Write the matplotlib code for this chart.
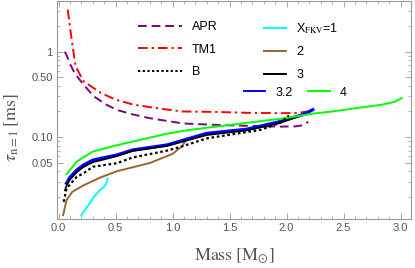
import matplotlib
matplotlib.use("Agg")
import matplotlib.pyplot as plt
from matplotlib.ticker import FixedLocator, NullFormatter, LogLocator

# (mass [Msun], tau_{n=1} [ms])
apr_m = [0.055, 0.08, 0.10, 0.13, 0.165, 0.22, 0.31, 0.42, 0.51, 0.65, 0.80, 1.09, 1.35, 1.65, 1.93, 2.08, 2.14, 2.17, 2.19]
apr_t = [1.0, 0.85, 0.72, 0.6, 0.51, 0.41, 0.30, 0.24, 0.209, 0.185, 0.167, 0.145, 0.140, 0.136, 0.133, 0.134, 0.138, 0.145, 0.152]

tm1_m = [0.08, 0.09, 0.095, 0.107, 0.13, 0.15, 0.22, 0.37, 0.50, 0.66, 0.90, 1.09, 1.35, 1.65, 1.93, 2.10, 2.18]
tm1_t = [3.1, 2.5, 2.2, 1.66, 1.0, 0.67, 0.45, 0.33, 0.275, 0.24, 0.215, 0.200, 0.198, 0.193, 0.191, 0.192, 0.200]

b_m = [0.045, 0.07, 0.16, 0.22, 0.30, 0.51, 0.65, 0.95, 1.08, 1.30, 1.77, 1.93, 1.99, 2.02]
b_t = [0.0176, 0.0252, 0.0345, 0.038, 0.0452, 0.0497, 0.058, 0.0697, 0.078, 0.097, 0.122, 0.145, 0.165, 0.18]

x1_m = [0.20, 0.26, 0.31, 0.36, 0.40, 0.42, 0.43]
x1_t = [0.0123, 0.016, 0.0201, 0.024, 0.0264, 0.029, 0.033]

x2_m = [0.04, 0.07, 0.12, 0.22, 0.37, 0.51, 0.80, 1.00, 1.08, 1.13]
x2_t = [0.0123, 0.0184, 0.023, 0.0275, 0.034, 0.040, 0.050, 0.064, 0.078, 0.098]

x3_m = [0.055, 0.07, 0.10, 0.16, 0.22, 0.30, 0.51, 0.65, 0.95, 1.30, 1.65, 1.94, 2.10]
x3_t = [0.024, 0.027, 0.032, 0.039, 0.045, 0.051, 0.060, 0.069, 0.079, 0.106, 0.120, 0.146, 0.175]

x32_m = [0.07, 0.10, 0.16, 0.22, 0.30, 0.51, 0.65, 0.95, 1.30, 1.65, 1.94, 2.15, 2.23]
x32_t = [0.029, 0.034, 0.0414, 0.0475, 0.054, 0.062, 0.071, 0.0812, 0.111, 0.124, 0.152, 0.185, 0.21]

x4_m = [0.07, 0.16, 0.30, 0.50, 0.65, 0.95, 1.15, 1.63, 2.00, 2.22, 2.40, 2.60, 2.83, 2.95, 3.01]
x4_t = [0.037, 0.052, 0.068, 0.080, 0.089, 0.110, 0.122, 0.146, 0.168, 0.188, 0.200, 0.218, 0.239, 0.260, 0.287]

purple = (0.5, 0.0, 0.5)
brown = (0.6, 0.4, 0.2)
gray = "#555555"

plt.rcParams["mathtext.fontset"] = "stix"
plt.rcParams["font.family"] = ["Liberation Sans", "DejaVu Sans"]

fig = plt.figure(figsize=(4.15, 2.68), dpi=100)
ax = fig.add_axes([0.137, 0.183, 0.853, 0.813])

l_apr, = ax.plot(apr_m, apr_t, color=purple, lw=1.4, ls=(0, (4.5, 2.5)))
l_tm1, = ax.plot(tm1_m, tm1_t, color="red", lw=1.4, ls=(0, (5, 2, 1.2, 2)))
l_x1, = ax.plot(x1_m, x1_t, color="cyan", lw=1.4)
l_x2, = ax.plot(x2_m, x2_t, color=brown, lw=1.4)
l_x32, = ax.plot(x32_m, x32_t, color="blue", lw=2.3)
l_x3, = ax.plot(x3_m, x3_t, color="black", lw=1.2)
l_x4, = ax.plot(x4_m, x4_t, color="#00ff00", lw=1.4)
l_b, = ax.plot(b_m, b_t, color="black", lw=1.6, ls=(0, (1.2, 1.2)))

ax.set_yscale("log")
ax.set_xlim(-0.015, 3.09)
ax.set_ylim(0.0111, 3.9)

ax.xaxis.set_major_locator(FixedLocator([0, 0.5, 1.0, 1.5, 2.0, 2.5, 3.0]))
ax.xaxis.set_minor_locator(FixedLocator([i * 0.1 for i in range(31)]))
ax.set_xticklabels(["0.0", "0.5", "1.0", "1.5", "2.0", "2.5", "3.0"])
ax.yaxis.set_major_locator(FixedLocator([0.05, 0.1, 0.5, 1]))
ax.set_yticklabels(["0.05", "0.10", "0.50", "1"])
ax.yaxis.set_minor_locator(LogLocator(base=10, subs=range(1, 10)))
ax.yaxis.set_minor_formatter(NullFormatter())

ax.tick_params(which="both", direction="in", top=True, right=True,
               color="#999999", labelcolor=gray, labelsize=8, pad=3)
ax.tick_params(which="major", length=4, width=0.6)
ax.tick_params(which="minor", length=2, width=0.5)
for s in ax.spines.values():
    s.set_color("#999999")
    s.set_linewidth(0.8)

ax.set_xlabel(r"$\mathrm{Mass\;[M_{\odot}]}$", fontsize=13, color=gray)
ax.set_ylabel(r"$\tau_{\mathrm{n=1}}\,[\mathrm{ms}]$", fontsize=13, color=gray)
ax.xaxis.set_label_coords(0.5, -0.125)
ax.yaxis.set_label_coords(-0.1, 0.42)

leg_kw = dict(frameon=False, fontsize=9, borderpad=0, borderaxespad=0,
              labelspacing=0.85, loc="upper left", handletextpad=0.8)
leg1 = fig.legend([l_apr, l_tm1, l_b], ["APR", "TM1", "B"],
                  bbox_to_anchor=(0.333, 0.922), handlelength=3.5, **leg_kw)
leg2 = fig.legend([l_x1, l_x2, l_x3], [r"X$_{\mathrm{FKV}}$=1", "2", "3"],
                  bbox_to_anchor=(0.637, 0.922), handlelength=1.75, **leg_kw)
leg3 = fig.legend([l_x32, l_x4], ["3.2", "4"], ncol=2,
                  bbox_to_anchor=(0.587, 0.676), handlelength=1.75,
                  columnspacing=1.2, **leg_kw)
for lg in (leg1, leg2, leg3):
    for h in lg.legend_handles:
        h.set_linewidth(1.4)

fig.savefig("out.png", dpi=100)
